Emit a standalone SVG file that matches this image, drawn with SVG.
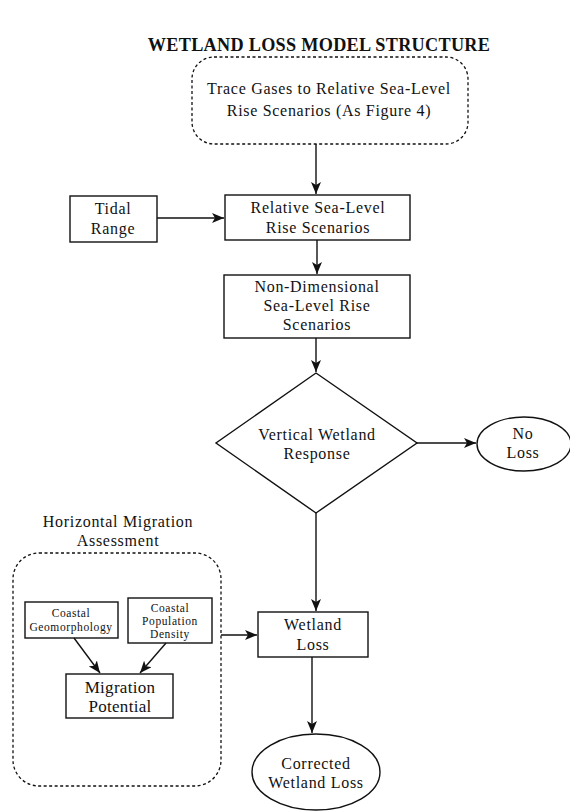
<svg xmlns="http://www.w3.org/2000/svg" width="570" height="812" viewBox="0 0 570 812">
<style>
text{font-family:"Liberation Serif","Times New Roman",serif;fill:#111;text-anchor:middle}
.t{font-size:16px;letter-spacing:0.7px}
.s{font-size:11.5px;letter-spacing:0.6px}
.m{font-size:17px;letter-spacing:0.3px}
.box{fill:#fff;stroke:#111;stroke-width:1.4}
.dash{fill:none;stroke:#111;stroke-width:1.3;stroke-dasharray:3,2.5}
.c{fill:none;stroke:#111;stroke-width:1.4}
</style>
<defs>
<marker id="ah" viewBox="0 0 12 10" refX="12" refY="5" markerWidth="12" markerHeight="10" markerUnits="userSpaceOnUse" orient="auto">
<path d="M0,0 L12,5 L0,10 L3,5 z" fill="#111"/>
</marker>
</defs>
<rect width="570" height="812" fill="#fff"/>
<text x="319" y="51" style="font-size:18.2px;font-weight:bold;letter-spacing:0.3px">WETLAND LOSS MODEL STRUCTURE</text>

<g id="trace">
<rect class="dash" x="192" y="57" width="276" height="87" rx="22"/>
<text class="t" x="329" y="94">Trace Gases to Relative Sea-Level</text>
<text class="t" x="329" y="116">Rise Scenarios (As Figure 4)</text>
</g>
<g id="tidal">
<rect class="box" x="70" y="196" width="87" height="46"/>
<text class="t" x="113" y="214">Tidal</text>
<text class="t" x="113" y="234">Range</text>
</g>
<g id="rslr">
<rect class="box" x="225" y="195" width="185" height="45"/>
<text class="t" x="318" y="213">Relative Sea-Level</text>
<text class="t" x="318" y="233">Rise Scenarios</text>
</g>
<g id="nondim">
<rect class="box" x="224" y="275" width="186" height="63"/>
<text class="t" x="317" y="292">Non-Dimensional</text>
<text class="t" x="317" y="311">Sea-Level Rise</text>
<text class="t" x="317" y="330">Scenarios</text>
</g>
<g id="vertical">
<polygon class="box" points="316,373 417,443 316,513 216,443"/>
<text class="t" x="317" y="440">Vertical Wetland</text>
<text class="t" x="317" y="459">Response</text>
</g>
<g id="noloss">
<ellipse class="box" cx="524" cy="444" rx="47" ry="27"/>
<text class="t" x="523" y="439">No</text>
<text class="t" x="523" y="458">Loss</text>
</g>
<g id="hma">
<text class="t" x="118" y="527">Horizontal Migration</text>
<text class="t" x="118" y="546">Assessment</text>
<rect class="dash" x="13" y="553" width="208" height="233" rx="26"/>
</g>
<g id="geomorph">
<rect class="box" x="25" y="602" width="93" height="36"/>
<text class="s" x="71" y="617">Coastal</text>
<text class="s" x="71" y="631">Geomorphology</text>
</g>
<g id="popdens">
<rect class="box" x="128" y="598" width="84" height="45"/>
<text class="s" x="170" y="612">Coastal</text>
<text class="s" x="170" y="625">Population</text>
<text class="s" x="170" y="638">Density</text>
</g>
<g id="migpot">
<rect class="box" x="66" y="674" width="107" height="44"/>
<text class="m" x="120" y="693">Migration</text>
<text class="m" x="120" y="712">Potential</text>
</g>
<g id="wetloss">
<rect class="box" x="258" y="612" width="110" height="45"/>
<text class="t" x="313" y="630">Wetland</text>
<text class="t" x="313" y="650">Loss</text>
</g>
<g id="corrected">
<ellipse class="box" cx="316" cy="772" rx="64" ry="38"/>
<text class="t" x="316" y="769">Corrected</text>
<text class="t" x="316" y="788">Wetland Loss</text>
</g>

<g id="connectors">
<line class="c" x1="316" y1="144" x2="316" y2="194" marker-end="url(#ah)"/>
<line class="c" x1="157" y1="218" x2="224" y2="218" marker-end="url(#ah)"/>
<line class="c" x1="317" y1="240" x2="317" y2="274" marker-end="url(#ah)"/>
<line class="c" x1="316" y1="338" x2="316" y2="372" marker-end="url(#ah)"/>
<line class="c" x1="417" y1="443" x2="476" y2="443" marker-end="url(#ah)"/>
<line class="c" x1="316" y1="513" x2="316" y2="611" marker-end="url(#ah)"/>
<line class="c" x1="221" y1="635" x2="257" y2="635" marker-end="url(#ah)"/>
<line class="c" x1="74" y1="638" x2="100" y2="673" marker-end="url(#ah)"/>
<line class="c" x1="166" y1="643" x2="140" y2="673" marker-end="url(#ah)"/>
<line class="c" x1="312" y1="657" x2="312" y2="733" marker-end="url(#ah)"/>
</g>
</svg>
